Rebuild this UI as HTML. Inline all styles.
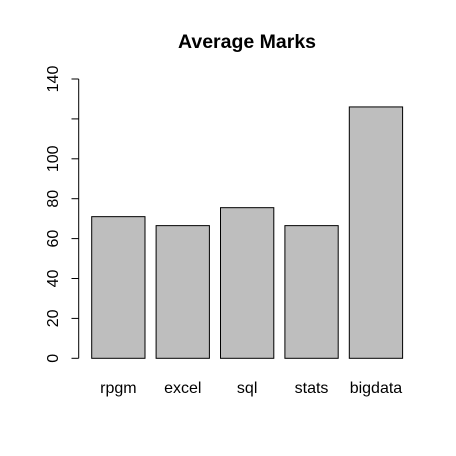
<!DOCTYPE html>
<html><head><meta charset="utf-8"><style>body{margin:0;background:#fff}svg{display:block}text{font-family:"Liberation Sans",Arial,sans-serif}</style></head>
<body>
<svg id="chart" width="456" height="456" xmlns="http://www.w3.org/2000/svg">
<rect width="456" height="456" fill="#fff"/>
<text x="247" y="48" text-anchor="middle" font-size="19.5" font-weight="bold">Average Marks</text>
<g id="marks"></g>
</svg>
<script>
const categories = ["rpgm","excel","sql","stats","bigdata"];
const values = [71, 66.5, 75.5, 66.5, 126];
const yTicks = [0,20,40,60,80,100,120,140];
const yTickLabels = ["0","20","40","60","80","100","","140"];
const NS="http://www.w3.org/2000/svg";
const g=document.getElementById('marks');
const y0=358.3, pxPerUnit=(358.3-79)/140;
const yScale=v=>y0-v*pxPerUnit;
const xStart=91.7, step=64.4, bw=53.3;
const xScale=i=>xStart+i*step;
function el(t,a){const e=document.createElementNS(NS,t);for(const k in a)e.setAttribute(k,a[k]);g.appendChild(e);return e;}
categories.forEach((c,i)=>{
  const b=el('rect',{x:xScale(i),y:yScale(values[i]),width:bw,height:yScale(0)-yScale(values[i]),fill:'#bebebe',stroke:'#000','stroke-width':1});
  
  
  const t=el('text',{x:xScale(i)+bw/2,y:393,'text-anchor':'middle','font-size':16});
  t.textContent=c;
  
  
});
const ax=el('line',{x1:78.7,x2:78.7,y1:yScale(0),y2:yScale(140),stroke:'#000'});


yTicks.forEach((v,i)=>{
  const tk=el('line',{x1:71.5,x2:78.7,y1:yScale(v),y2:yScale(v),stroke:'#000'});
  
  
  if(yTickLabels[i]){
    const t=el('text',{x:0,y:0,'text-anchor':'middle','font-size':16,transform:`translate(58,${yScale(v)}) rotate(-90)`});
    t.textContent=yTickLabels[i];
    
    
  }
});
</script>
</body></html>
